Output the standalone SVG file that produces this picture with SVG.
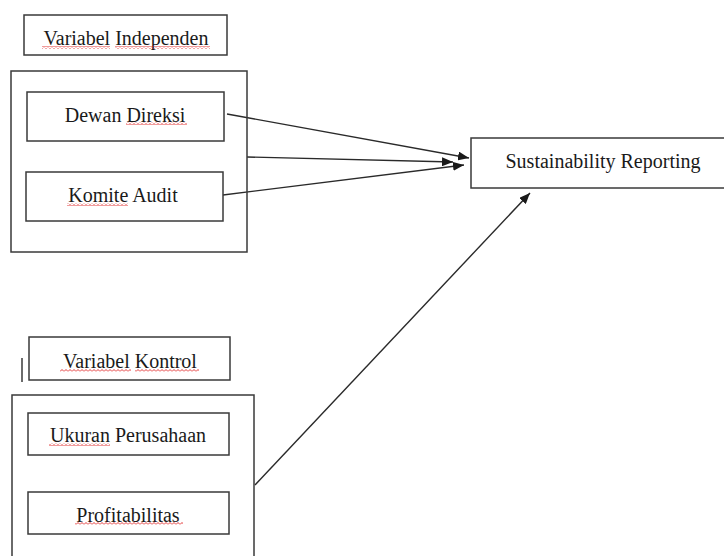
<svg xmlns="http://www.w3.org/2000/svg" width="724" height="556" viewBox="0 0 724 556">
  <defs>
    <style>
      .box { fill: #ffffff; stroke: #3a3a3a; stroke-width: 1.5; }
      .frame { fill: none; stroke: #3a3a3a; stroke-width: 1.5; }
      .lbl { font-family: "Liberation Serif", "Times New Roman", serif; font-size: 20px; fill: #1a1a1a; text-anchor: middle; }
      .conn { stroke: #2a2a2a; stroke-width: 1.4; fill: none; marker-end: url(#arrow); }
      .squig { fill: url(#wavy); }
    </style>
    <marker id="arrow" markerUnits="userSpaceOnUse" markerWidth="12" markerHeight="9" refX="11" refY="4.5" orient="auto">
      <path d="M0,0 L11,4.5 L0,9 Z" fill="#1a1a1a"/>
    </marker>
    <pattern id="wavy" patternUnits="userSpaceOnUse" width="4" height="3">
      <path d="M0,2.5 L2,0.5 L4,2.5" fill="none" stroke="#e02020" stroke-width="0.9"/>
    </pattern>
  </defs>

  <rect width="724" height="556" fill="#ffffff"/>

  <g id="connectors">
    <line class="conn" x1="227" y1="114" x2="469" y2="158"/>
    <line class="conn" x1="247" y1="157" x2="453" y2="162"/>
    <line class="conn" x1="223" y1="195" x2="464" y2="165"/>
    <line class="conn" x1="255" y1="485" x2="530" y2="193"/>
  </g>

  <g id="variabel-independen-title">
    <rect class="box" x="24" y="15" width="203" height="40"/>
    <text class="lbl" x="126" y="45">Variabel Independen</text>
    <rect class="squig" x="42" y="46" width="68" height="3"/>
    <rect class="squig" x="115" y="46" width="95" height="3"/>
  </g>

  <g id="variabel-independen-group">
    <rect class="frame" x="11" y="71" width="236" height="181"/>
  </g>

  <g id="dewan-direksi">
    <rect class="box" x="27" y="92" width="197" height="49"/>
    <text class="lbl" x="125" y="122">Dewan Direksi</text>
    <rect class="squig" x="126" y="122" width="61" height="3"/>
  </g>

  <g id="komite-audit">
    <rect class="box" x="26" y="172" width="197" height="49"/>
    <text class="lbl" x="123" y="202">Komite Audit</text>
    <rect class="squig" x="67" y="203" width="61" height="3"/>
  </g>

  <g id="sustainability-reporting">
    <rect class="box" x="471" y="138" width="260" height="50"/>
    <text class="lbl" x="603" y="168">Sustainability Reporting</text>
  </g>

  <g id="variabel-kontrol-title">
    <line x1="22" y1="358" x2="22" y2="382" stroke="#3a3a3a" stroke-width="1.5"/>
    <rect class="box" x="29" y="337" width="201" height="43"/>
    <text class="lbl" x="130" y="368">Variabel Kontrol</text>
    <rect class="squig" x="60" y="369" width="71" height="3"/>
    <rect class="squig" x="135" y="369" width="64" height="3"/>
  </g>

  <g id="variabel-kontrol-group">
    <rect class="frame" x="12" y="395" width="242" height="175"/>
  </g>

  <g id="ukuran-perusahaan">
    <rect class="box" x="28" y="413" width="201" height="42"/>
    <text class="lbl" x="128" y="442">Ukuran Perusahaan</text>
    <rect class="squig" x="49" y="443" width="61" height="3"/>
  </g>

  <g id="profitabilitas">
    <rect class="box" x="28" y="492" width="201" height="42"/>
    <text class="lbl" x="128" y="522">Profitabilitas</text>
    <rect class="squig" x="75" y="522" width="108" height="3"/>
  </g>
</svg>
